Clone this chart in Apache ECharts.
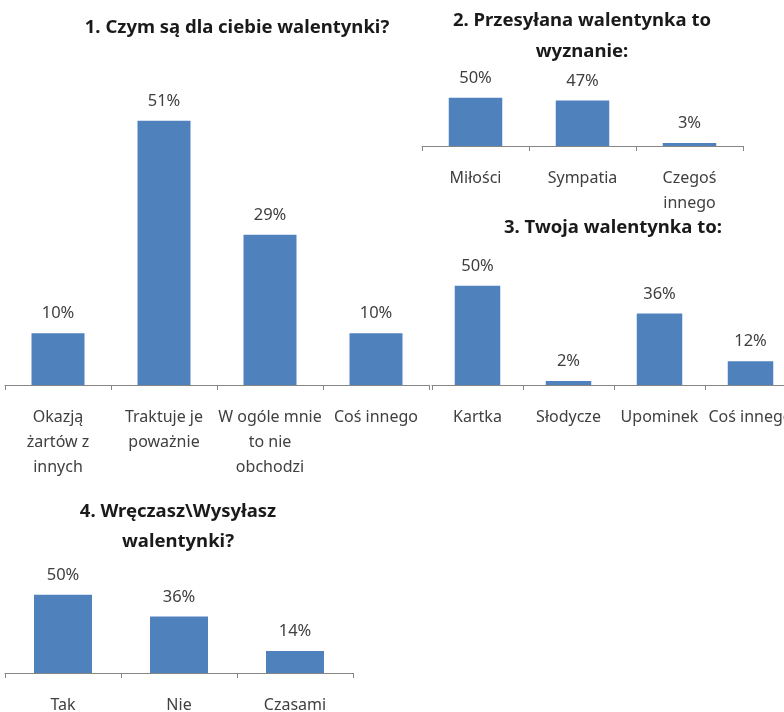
<!DOCTYPE html>
<html><head><meta charset="utf-8">
<script src="https://cdn.jsdelivr.net/npm/echarts@6/dist/echarts.min.js"></script>
<style>html,body{margin:0;padding:0;background:#fff;overflow:hidden;width:784px;height:712px}#c{width:784px;height:712px}</style>
</head><body><div id="c"></div>
<script>
const titles = ['1. Czym są dla ciebie walentynki?', '2. Przesyłana walentynka to\nwyznanie:', '3. Twoja walentynka to:', '4. Wręczasz\\Wysyłasz\nwalentynki?'];
const cat1 = ['Okazją\nżartów z\ninnych', 'Traktuje je\npoważnie', 'W ogóle mnie\nto nie\nobchodzi', 'Coś innego'];
const val1 = [10, 51, 29, 10];
const cat2 = ['Miłości', 'Sympatia', 'Czegoś\ninnego'];
const val2 = [50, 47, 3];
const cat3 = ['Kartka', 'Słodycze', 'Upominek', 'Coś innego'];
const val3 = [50, 2, 36, 12];
const cat4 = ['Tak', 'Nie', 'Czasami'];
const val4 = [50, 36, 14];

const FONT = 'Noto Sans';
const BAR = '#4F81BD';
const AX = '#868686';
const TXT = '#404040';

const grids = [
  {left: 5, top: 74, width: 424, height: 311},
  {left: 422, top: 88, width: 321, height: 58},
  {left: 432, top: 266, width: 364, height: 119},
  {left: 5, top: 579, width: 348, height: 94}
];
const titlePos = [
  {x: 237, top: 16, lh: 24},
  {x: 582, top: 5, lh: 31},
  {x: 613, top: 216, lh: 24},
  {x: 178, top: 497, lh: 30}
];
const cats = [cat1, cat2, cat3, cat4];
const vals = [val1, val2, val3, val4];

const option = {
  backgroundColor: '#fff',
  animation: false,
  title: titles.map((t, i) => ({
    text: t, left: titlePos[i].x, top: titlePos[i].top, textAlign: 'center', padding: 0,
    textStyle: {fontFamily: FONT, fontWeight: 'bold', fontSize: 18.5, color: '#1a1a1a', lineHeight: titlePos[i].lh}
  })),
  grid: grids.map(g => Object.assign({containLabel: false, outerBoundsMode: 'none'}, g)),
  xAxis: cats.map((c, i) => ({
    type: 'category', gridIndex: i, data: c, boundaryGap: true,
    axisLine: {show: true, lineStyle: {color: AX, width: 1}},
    axisTick: {show: true, length: 5, alignWithLabel: false, lineStyle: {color: AX}},
    axisLabel: {interval: 0, margin: 20, fontFamily: FONT, fontSize: 16, lineHeight: 25, color: TXT, hideOverlap: false},
    splitLine: {show: false}
  })),
  yAxis: cats.map((c, i) => ({
    type: 'value', gridIndex: i, min: 0, max: 60, show: false, splitLine: {show: false}
  })),
  series: vals.map((v, i) => ({
    type: 'bar', xAxisIndex: i, yAxisIndex: i, data: v, barWidth: '50%',
    itemStyle: {color: BAR},
    label: {show: true, position: 'top', distance: 11, formatter: '{c}%', fontFamily: FONT, fontSize: 16.5, color: TXT}
  }))
};
const chart = echarts.init(document.getElementById('c'), null, {renderer: 'canvas'});
chart.setOption(option);
</script>
</body></html>
